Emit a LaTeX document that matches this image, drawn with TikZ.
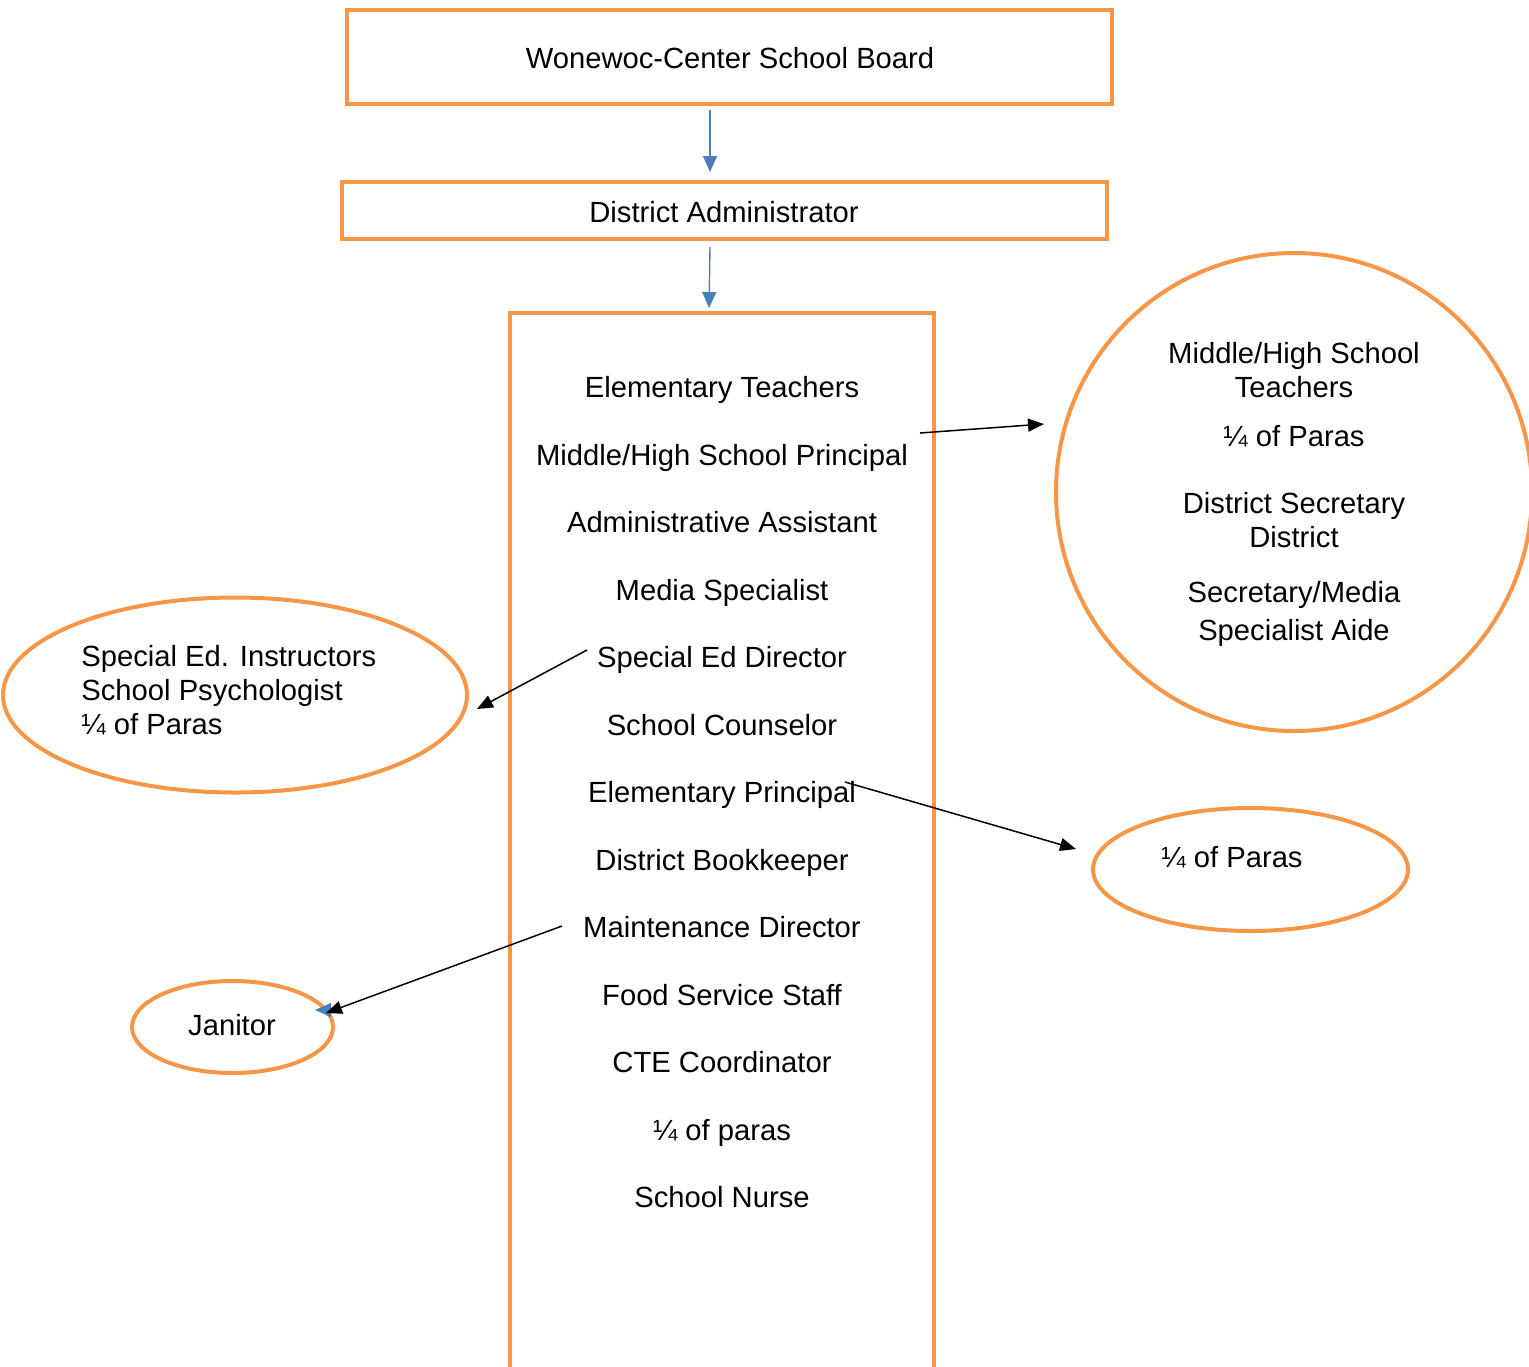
\documentclass[tikz,border=0pt]{standalone}
\usepackage{fontspec}
\setmainfont{Liberation Sans}
\usetikzlibrary{arrows.meta,shapes.geometric}
\definecolor{orng}{HTML}{F79646}
\definecolor{blu}{HTML}{4A7EBB}
\begin{document}
\begin{tikzpicture}[x=0.5pt,y=-0.5pt,
 box/.style={draw=orng,line width=2pt,inner sep=0pt},
 oval/.style={draw=orng,line width=2pt,ellipse,inner sep=0pt},
 txt/.style={font=\fontsize{14.6pt}{17pt}\selectfont,inner sep=0pt,align=center},
 item/.style={txt,text height=0.72em,text depth=0pt,yshift=-1.5pt},
 blk/.style={draw=black,line width=0.75pt,-{Triangle[length=8pt,width=6.5pt]}},
 bl/.style={draw=blu,line width=0.7pt,-{Triangle[length=8pt,width=7pt]}}]
\useasboundingbox (0,0) rectangle (1529,1366);
% boxes
\node[box,minimum width=382.5pt,minimum height=47pt] (board) at (729.5,57) {};
\node[item] (boardt) at (730,58) {Wonewoc-Center School Board};
\node[box,minimum width=382.5pt,minimum height=28.5pt] (admin) at (724.5,210.5) {};
\node[item] (admint) at (724,212) {District Administrator};
\node[box,minimum width=212pt,minimum height=550pt] (staff) at (722,863) {};
% staff list
\foreach \t/\y [count=\i] in {{Elementary Teachers}/387,{Middle/High School Principal}/455,{Administrative Assistant}/522,{Media Specialist}/590,{Special Ed Director}/657,{School Counselor}/725,{Elementary Principal}/792,{District Bookkeeper}/860,{Maintenance Director}/927,{Food Service Staff}/995,{CTE Coordinator}/1062,{¼ of paras}/1130,{School Nurse}/1197}
  \node[item] (s\i) at (722,\y) {\t};
% right circle
\node[oval,minimum width=238pt,minimum height=239pt] (circ) at (1294,492) {};
\node[txt] (c1) at (1294,370) {Middle/High School\\Teachers};
\node[txt] (c2) at (1294,436) {¼ of Paras};
\node[txt] (c3) at (1294,520) {District Secretary\\District};
\node[item] (c4) at (1294,592) {Secretary/Media};
\node[item] (c5) at (1294,630) {Specialist Aide};
% left ellipse
\node[oval,minimum width=232pt,minimum height=97.5pt] (sped) at (235,695) {};
\node[txt,align=left,anchor=west] (spedt) at (81,690) {Special Ed. Instructors\\School Psychologist\\¼ of Paras};
% small right ellipse
\node[oval,minimum width=157.5pt,minimum height=61.5pt] (paras) at (1250.5,869.5) {};
\node[txt] (parast) at (1232,857) {¼ of Paras};
% janitor
\node[oval,minimum width=100.5pt,minimum height=46pt] (jan) at (232.5,1027) {};
\node[txt] (jant) at (232,1025) {Janitor};
% connector end points
\coordinate (a1s) at (710,110); \coordinate (a1e) at (710,172);
\coordinate (a2s) at (710,247); \coordinate (a2e) at (709,308);
\coordinate (r1s) at (920,433); \coordinate (r1e) at (1044,424);
\coordinate (l1s) at (587,650); \coordinate (l1e) at (477,709);
\coordinate (r2s) at (845,782); \coordinate (r2e) at (1076,849);
\coordinate (j1s) at (562,926); \coordinate (j1e) at (326,1013);
\coordinate (j2s) at (334,1010); \coordinate (j2e) at (315,1010);
\draw[bl] (a1s) -- (a1e);
\draw[bl] (a2s) -- (a2e);
\draw[bl] (j2s) -- (j2e);
\draw[blk] (r1s) -- (r1e);
\draw[blk] (l1s) -- (l1e);
\draw[blk] (r2s) -- (r2e);
\draw[blk] (j1s) -- (j1e);
\end{tikzpicture}
\end{document}
